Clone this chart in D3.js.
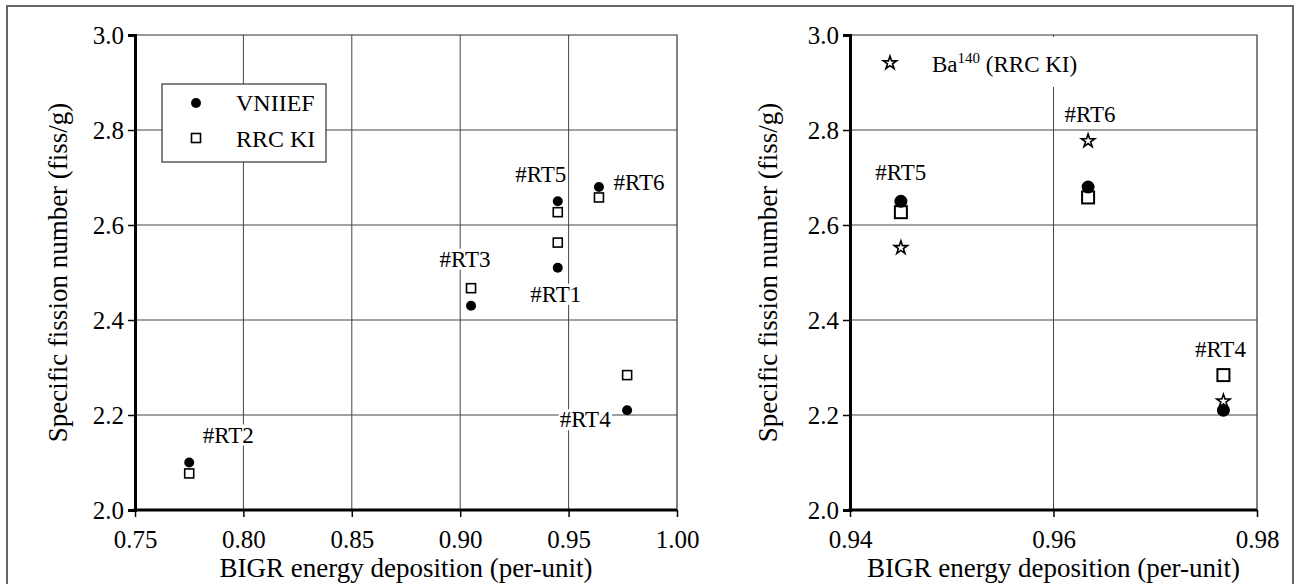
<!DOCTYPE html>
<html>
<head>
<meta charset="utf-8">
<script src="https://cdn.jsdelivr.net/npm/d3@7"></script>
<style>
  body { margin: 0; background: #fff; }
</style>
</head>
<body>
<div id="chart"></div>
<script>
// data
const labels = ["#RT1", "#RT2", "#RT3", "#RT4", "#RT5", "#RT6"];
const deposition = [0.945, 0.775, 0.905, 0.977, 0.945, 0.964];
const vniief = [2.51, 2.10, 2.43, 2.21, 2.65, 2.68];
const rrcki = [2.563, 2.077, 2.467, 2.284, 2.627, 2.658];

// right panel: only RT4, RT5, RT6 (Ba-140 measurements)
const zoomRuns = ["#RT4", "#RT5", "#RT6"];
const zoomDeposition = [0.9767, 0.945, 0.9634];
const zoomVniief = [2.21, 2.65, 2.68];
const zoomRrcki = [2.284, 2.627, 2.658];
const ba140 = [2.229, 2.552, 2.777];

const yTicks = [2.0, 2.2, 2.4, 2.6, 2.8, 3.0];
const xTicksLeft = [0.75, 0.80, 0.85, 0.90, 0.95, 1.00];
const xTicksRight = [0.94, 0.96, 0.98];

const FONT = "'Liberation Serif', 'Times New Roman', 'DejaVu Serif', serif";
const W = 1297, H = 584;
let svg = d3.select("#chart").append("svg")
  .attr("width", W)
  .attr("height", H)
  .style("font-family", FONT);

// outer frame
svg.append("rect")
  .attr("x", 7).attr("y", 6)
  .attr("width", 1286).attr("height", 620)
  .attr("fill", "none")
  .attr("stroke", "#666")
  .attr("stroke-width", 2);

function panel(opts) {
  let x = d3.scaleLinear().domain(opts.xDomain).range([opts.left, opts.right]);
  let y = d3.scaleLinear().domain([2.0, 3.0]).range([510, 35]);
  let g = svg.append("g");

  // grid
  g.selectAll(".vgrid")
    .data(opts.xTicks.slice(1, -1))
    .enter().append("line")
    .attr("x1", d => x(d)).attr("x2", d => x(d))
    .attr("y1", y(2.0)).attr("y2", y(3.0))
    .attr("stroke", "#444").attr("stroke-width", 1);
  g.selectAll(".hgrid")
    .data(yTicks.slice(1, -1))
    .enter().append("line")
    .attr("x1", opts.left).attr("x2", opts.right)
    .attr("y1", d => y(d)).attr("y2", d => y(d))
    .attr("stroke", "#444").attr("stroke-width", 1);

  let over = g.append("g");

  // top and right border
  g.append("path")
    .attr("d", `M${opts.left},${y(3)}H${opts.right}V${y(2)}`)
    .attr("fill", "none")
    .attr("stroke", "#333").attr("stroke-width", 1.2);

  // axes
  let xa = g.append("g")
    .attr("transform", `translate(0,${y(2.0)})`)
    .call(d3.axisBottom(x).tickValues(opts.xTicks).tickFormat(opts.xFormat).tickSize(7).tickPadding(13));
  let ya = g.append("g")
    .attr("transform", `translate(${opts.left},0)`)
    .call(d3.axisLeft(y).tickValues(yTicks).tickFormat(d3.format(".1f")).tickSize(7).tickPadding(4));
  [xa, ya].forEach(a => {
    a.attr("font-family", null).attr("font-size", null);
    a.selectAll("text").style("font-family", FONT).attr("font-size", "25px");
    a.select(".domain").attr("stroke-width", 3).attr("stroke", "#000");
    a.selectAll(".tick line").attr("stroke-width", 1.5);
  });
  xa.select(".domain").attr("d", `M${opts.left - 1.5},0H${opts.right}`);

  g.append("text")
    .attr("x", (opts.left + opts.right) / 2)
    .attr("y", 577)
    .attr("text-anchor", "middle")
    .attr("font-size", "27px")
    .text("BIGR energy deposition (per-unit)");
  g.append("text")
    .attr("transform", `translate(${opts.titleX},${(y(2) + y(3)) / 2}) rotate(-90)`)
    .attr("text-anchor", "middle")
    .attr("dy", "0.35em")
    .attr("font-size", "27px")
    .text("Specific fission number (fiss/g)");

  return { x, y, g, over };
}

function boxedLabel(parent, tx, ty, str, size) {
  let t = parent.append("text")
    .attr("x", tx).attr("y", ty)
    .attr("text-anchor", "middle")
    .attr("font-size", size)
    .text(str);
  let b = t.node().getBBox();
  parent.insert("rect", "text")
    .attr("x", b.x - 1).attr("y", b.y + 2)
    .attr("width", b.width + 2).attr("height", b.height - 4)
    .attr("fill", "#fff");
}

// ---------- left panel ----------
let L = panel({
  xDomain: [0.75, 1.0], left: 135, right: 677,
  xTicks: xTicksLeft, xFormat: d3.format(".2f"), titleX: 58
});

// label offsets (px) from the VNIIEF point
const leftOffsets = {
  "#RT1": [-2, 34], "#RT2": [39, -20], "#RT3": [-6, -39],
  "#RT4": [-42, 17], "#RT5": [-17, -19], "#RT6": [40, 3]
};
labels.forEach((lab, i) => {
  let o = leftOffsets[lab];
  boxedLabel(L.over.append("g"), L.x(deposition[i]) + o[0], L.y(vniief[i]) + o[1], lab, "23px");
});

L.g.selectAll(".sq")
  .data(labels).enter().append("rect")
  .attr("x", (d, i) => L.x(deposition[i]) - 4.5)
  .attr("y", (d, i) => L.y(rrcki[i]) - 4.5)
  .attr("width", 9).attr("height", 9)
  .attr("fill", "#fff").attr("stroke", "#000").attr("stroke-width", 1.6);
L.g.selectAll(".dot")
  .data(labels).enter().append("circle")
  .attr("cx", (d, i) => L.x(deposition[i]))
  .attr("cy", (d, i) => L.y(vniief[i]))
  .attr("r", 5).attr("fill", "#000");

// legend
let lg = L.g.append("g");
lg.append("rect")
  .attr("x", 162).attr("y", 84).attr("width", 164).attr("height", 78)
  .attr("fill", "#fff").attr("stroke", "#333").attr("stroke-width", 1.2);
lg.append("circle").attr("cx", 196).attr("cy", 103).attr("r", 5).attr("fill", "#000");
lg.append("rect").attr("x", 191.5).attr("y", 133.5).attr("width", 9).attr("height", 9)
  .attr("fill", "#fff").attr("stroke", "#000").attr("stroke-width", 1.6);
lg.append("text").attr("x", 236).attr("y", 111).attr("font-size", "24px").text("VNIIEF");
lg.append("text").attr("x", 236).attr("y", 147).attr("font-size", "24px").text("RRC KI");

// ---------- right panel ----------
let R = panel({
  xDomain: [0.94, 0.98], left: 850, right: 1257,
  xTicks: xTicksRight, xFormat: d3.format(".2f"), titleX: 768
});

// label offsets (px) from the highest marker of each run
const rightOffsets = { "#RT4": [-3, -18], "#RT5": [0, -21], "#RT6": [2, -19] };
zoomRuns.forEach((lab, i) => {
  let top = Math.max(zoomVniief[i], zoomRrcki[i], ba140[i]);
  let o = rightOffsets[lab];
  boxedLabel(R.over.append("g"), R.x(zoomDeposition[i]) + o[0], R.y(top) + o[1], lab, "23px");
});

R.g.selectAll(".sq")
  .data(zoomRuns).enter().append("rect")
  .attr("x", (d, i) => R.x(zoomDeposition[i]) - 6)
  .attr("y", (d, i) => R.y(zoomRrcki[i]) - 6)
  .attr("width", 12).attr("height", 12)
  .attr("fill", "#fff").attr("stroke", "#000").attr("stroke-width", 2);
R.g.selectAll(".dot")
  .data(zoomRuns).enter().append("circle")
  .attr("cx", (d, i) => R.x(zoomDeposition[i]))
  .attr("cy", (d, i) => R.y(zoomVniief[i]))
  .attr("r", 6.5).attr("fill", "#000");

let star = d3.symbol().type(d3.symbolStar).size(55);
R.g.selectAll(".star")
  .data(zoomRuns).enter().append("path")
  .attr("d", star)
  .attr("transform", (d, i) => `translate(${R.x(zoomDeposition[i])},${R.y(ba140[i])})`)
  .attr("fill", "#fff").attr("stroke", "#000").attr("stroke-width", 1.6);

// legend for Ba-140 (white backing hides the grid line)
let rl = R.over.append("g");
rl.append("rect").attr("x", 872).attr("y", 37).attr("width", 215).attr("height", 50).attr("fill", "#fff");
rl.append("path").attr("d", star).attr("transform", "translate(890,63)")
  .attr("fill", "#fff").attr("stroke", "#000").attr("stroke-width", 1.6);
let bt = rl.append("text").attr("x", 932).attr("y", 72).attr("font-size", "23px");
bt.append("tspan").text("Ba");
bt.append("tspan").attr("font-size", "15px").attr("dy", "-9").text("140");
bt.append("tspan").attr("dy", "9").text(" (RRC KI)");
</script>
</body>
</html>
